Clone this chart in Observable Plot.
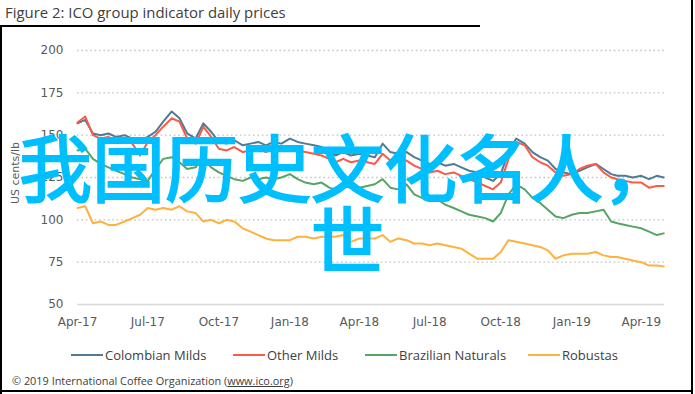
<!DOCTYPE html>
<html><head><meta charset="utf-8">
<script src="https://cdn.jsdelivr.net/npm/d3@7"></script>
<script src="https://cdn.jsdelivr.net/npm/@observablehq/plot@0.6"></script>
<style>
body{margin:0;background:#fff;}
#wrap{position:relative;width:695px;height:394px;overflow:hidden;background:#fff;font-family:"Open Sans",sans-serif;}
#chart{position:absolute;left:0;top:0;}
#title{position:absolute;left:5px;top:2px;font-size:14.9px;color:#404040;white-space:nowrap;}
#ylab{position:absolute;left:15px;top:173px;transform:translate(-50%,-50%) rotate(-90deg);font-family:"DejaVu Sans";font-size:11px;color:#595959;white-space:nowrap;}
#legend{position:absolute;left:0;top:346px;width:695px;height:18px;}
.item{position:absolute;top:0;height:18px;display:flex;align-items:center;font-size:13px;color:#404040;white-space:nowrap;}
.sw{width:32px;height:2px;margin-right:2px;}
#copy{position:absolute;left:12px;top:373px;font-size:10.9px;color:#404040;white-space:nowrap;}
#copy u{text-decoration:underline;}
#overlay{position:absolute;left:0;top:128px;width:695px;text-align:center;font-family:"Noto Sans CJK SC";font-size:73px;line-height:72px;color:#00bfff;-webkit-text-stroke:2px #00bfff;white-space:nowrap;}
.bl{position:absolute;background:#000;}
</style></head><body><div id="wrap">
<div class="bl" style="left:0;top:26px;width:2px;height:368px"></div>
<div class="bl" style="left:691px;top:0;width:2px;height:394px"></div>
<div class="bl" style="left:0;top:390px;width:693px;height:2px"></div>
<div class="bl" style="left:0;top:25px;width:480px;height:2px"></div>
<div id="chart"></div><div id="title">Figure 2: ICO group indicator daily prices</div><div id="ylab">US cents/lb</div><div id="legend"></div><div id="copy">© 2019 International Coffee Organization (<u>www.ico.org</u>)</div><div id="overlay">我国历史文化名人，<br>世</div></div>
<script>
const seriesNames = ["Colombian Milds", "Other Milds", "Brazilian Naturals", "Robustas"];
const seriesColors = ["#4f7b95", "#fb5a47", "#55a565", "#ffb13d"];
const yTicks = [50, 75, 100, 125, 150, 175, 200];
const xTicks = ["2017-04-01","2017-07-01","2017-10-01","2018-01-01","2018-04-01","2018-07-01","2018-10-01","2019-01-01","2019-04-01"];
const dates = [
"2017-04-01","2017-04-11","2017-04-21","2017-05-01","2017-05-11","2017-05-21",
"2017-06-01","2017-06-11","2017-06-21","2017-07-01","2017-07-11","2017-07-21",
"2017-08-01","2017-08-11","2017-08-21","2017-09-01","2017-09-11","2017-09-21",
"2017-10-01","2017-10-11","2017-10-21","2017-11-01","2017-11-11","2017-11-21",
"2017-12-01","2017-12-11","2017-12-21","2018-01-01","2018-01-11","2018-01-21",
"2018-02-01","2018-02-11","2018-02-21","2018-03-01","2018-03-11","2018-03-21",
"2018-04-01","2018-04-11","2018-04-21","2018-05-01","2018-05-11","2018-05-21",
"2018-06-01","2018-06-11","2018-06-21","2018-07-01","2018-07-11","2018-07-21",
"2018-08-01","2018-08-11","2018-08-21","2018-09-01","2018-09-11","2018-09-21",
"2018-10-01","2018-10-11","2018-10-21","2018-11-01","2018-11-11","2018-11-21",
"2018-12-01","2018-12-11","2018-12-21","2019-01-01","2019-01-11","2019-01-21",
"2019-02-01","2019-02-11","2019-02-21","2019-03-01","2019-03-11","2019-03-21",
"2019-04-01","2019-04-11","2019-04-21","2019-04-30"];
const colombian = [157,159,151,150,151,149, 150,148,147,149,152,158, 164,160,151,148,157,152,
146,145,147,144,145,146, 144,146,145,148,146,145, 144,143,140,138,140,138,
139,138,137,145,140,139, 140,137,135,133,134,132, 133,131,129,128,125,123,
127,140,148,145,140,137, 135,130,128,127,129,131, 133,130,127,126,126,125, 126,124,126,125];
const otherMilds = [157.5,161,150,148,149,146, 147,145,138,146,150,155, 160,158,148,145,155,149,
142,141,143,140,141,142, 140,142,141,143,141,140, 139,138,136,134,136,134,
135,134,133,139,135,134, 135,132,130,128,129,127, 128,126,124,122,120,118,
122,136,146,144,137,134, 132,128,126,127,130,132, 133,128,125,124,123,122, 122,119,120,120];
const brazilian = [141,142,136,133,131,129, 127,125,124,123,130,136, 137,134,130,131,137,131,
128,126,124,123,125,124, 125,124,125,127,124,122, 121,122,119,118,120,119,
119,120,121,124,119,118, 121,115,113,111,112,109, 107,105,103,102,101,99,
104,115,121,118,113,110, 106,102,101,103,104,104, 105,106,99,98,97,96, 95,93,91,92];
const robustas = [107,108,98,99,97,97, 99,101,103,107,106,107, 106,108,105,104,99,100,
98,100,99,95,93,91, 89,88,88,88,90,90, 89,90,90,90,91,87,
89,89,89,91,87,89, 88,86,86,85,86,85, 84,83,80,77,77,77,
81,88,87,86,85,84, 82,77,79,80,80,80, 81,79,78,78,77,76, 75,73,73,72.5];

const allValues = [colombian, otherMilds, brazilian, robustas];
const rows = [];
seriesNames.forEach((s, i) => allValues[i].forEach((v, j) => rows.push({date: new Date(dates[j]), value: v, series: s})));

const chart = Plot.plot({
  width: 695, height: 340,
  marginLeft: 77, marginRight: 31, marginTop: 50, marginBottom: 36,
  style: {fontFamily: "DejaVu Sans", fontSize: "12px", color: "#595959", background: "transparent", overflow: "visible"},
  x: {type: "utc", domain: [new Date("2017-04-01"), new Date("2019-05-01")], ticks: xTicks.map(d => new Date(d)), tickFormat: d3.utcFormat("%b-%y"), tickSize: 0, tickPadding: 13, label: null},
  y: {domain: [50, 200], ticks: yTicks, tickSize: 0, tickPadding: 14, label: null},
  color: {domain: seriesNames, range: seriesColors},
  marks: [
    Plot.ruleY(yTicks.filter(v => v > 50), {stroke: "#c4c4c4", strokeDasharray: "1.6,2.8", strokeWidth: 1.3}),
    Plot.ruleY([50], {stroke: "#d9d9d9", strokeWidth: 1.6}),
    Plot.line(rows, {x: "date", y: "value", z: "series", stroke: "series", strokeWidth: 2, curve: "linear"})
  ]
});
document.getElementById("chart").appendChild(chart);

const legendLefts = [71, 233, 365, 528];
const legend = document.getElementById("legend");
seriesNames.forEach((s, i) => {
  const it = document.createElement("div");
  it.className = "item";
  it.style.left = legendLefts[i] + "px";
  it.innerHTML = `<span class="sw" style="background:${seriesColors[i]}"></span><span>${s}</span>`;
  legend.appendChild(it);
});
</script></body></html>
